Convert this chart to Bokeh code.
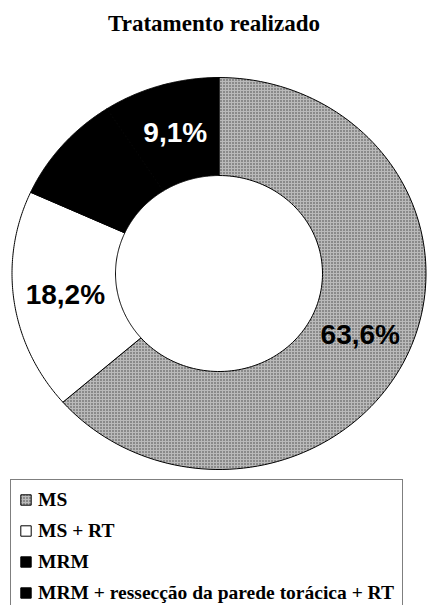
import numpy as np
from bokeh.plotting import figure
from bokeh.models import ColumnDataSource, Range1d, Legend, LegendItem
from bokeh.core.properties import value
from bokeh.embed import file_html
from bokeh.resources import INLINE

# ---- data ----
title = "Tratamento realizado"
categories = ["MS", "MS + RT", "MRM", "MRM + ressecção da parede torácica + RT"]
percent = [63.6, 18.2, 9.1, 9.1]
fill_colors = ["#bababa", "#ffffff", "#000000", "#000000"]
hatches = [".", " ", " ", " "]
show_label = [True, True, False, True]
label_colors = ["#000000", "#000000", "#ffffff", "#ffffff"]

INNER = 0.5
LABEL_R = 0.75

# ---- geometry from values (clockwise from 12 o'clock) ----
total = sum(percent)
xs, ys, mids = [], [], []
start = np.pi / 2
for v in percent:
    sweep = 2 * np.pi * v / total
    end = start - sweep
    t = np.linspace(start, end, 120)
    ox, oy = np.cos(t), np.sin(t)
    ix, iy = INNER * np.cos(t[::-1]), INNER * np.sin(t[::-1])
    xs.append(list(np.concatenate([ox, ix])))
    ys.append(list(np.concatenate([oy, iy])))
    mids.append((start + end) / 2)
    start = end

src = ColumnDataSource(dict(xs=xs, ys=ys, fill=fill_colors, hatch=hatches, name=categories))

p = figure(width=427, height=605, output_backend="svg", toolbar_location=None,
           x_range=Range1d(-1.0556, 1.0072), y_range=Range1d(-1.694, 1.189),
           min_border=0, min_border_left=0, min_border_right=0,
           min_border_top=40, min_border_bottom=0)
p.axis.visible = False
p.grid.visible = False
p.outline_line_color = None
p.background_fill_color = "white"

p.title.text = title
p.title.align = "center"
p.title.text_font = "Liberation Serif"
p.title.text_font_style = "bold"
p.title.text_font_size = "23px"
p.title.text_color = "black"

r = p.patches("xs", "ys", source=src, fill_color="fill", line_color="black", line_width=1,
              hatch_pattern="hatch", hatch_color="#404040", hatch_scale=3, hatch_weight=1)

lx, ly, lt, lc = [], [], [], []
for i, v in enumerate(percent):
    if show_label[i]:
        lx.append(LABEL_R * np.cos(mids[i]))
        ly.append(LABEL_R * np.sin(mids[i]))
        lt.append(f"{v:.1f}".replace(".", ",") + "%")
        lc.append(label_colors[i])
lsrc = ColumnDataSource(dict(x=lx, y=ly, t=lt, c=lc))
p.text("x", "y", text="t", source=lsrc, text_color="c", text_font=value("Liberation Sans"),
       text_font_style="bold", text_font_size="28px", text_align="center", text_baseline="middle")

items = [LegendItem(label=c, renderers=[r], index=i) for i, c in enumerate(categories)]
leg = Legend(items=items, location=(10, -8), orientation="vertical",
             label_text_font="Liberation Serif", label_text_font_style="bold",
             label_text_font_size="19.5px", label_text_color="black",
             glyph_width=13, glyph_height=13, label_standoff=6, label_height=23,
             spacing=8, padding=8, margin=0,
             border_line_color="black", border_line_width=1,
             background_fill_color="white", background_fill_alpha=1.0)
p.add_layout(leg, "center")

open("out.html", "w").write(file_html(p, INLINE))
